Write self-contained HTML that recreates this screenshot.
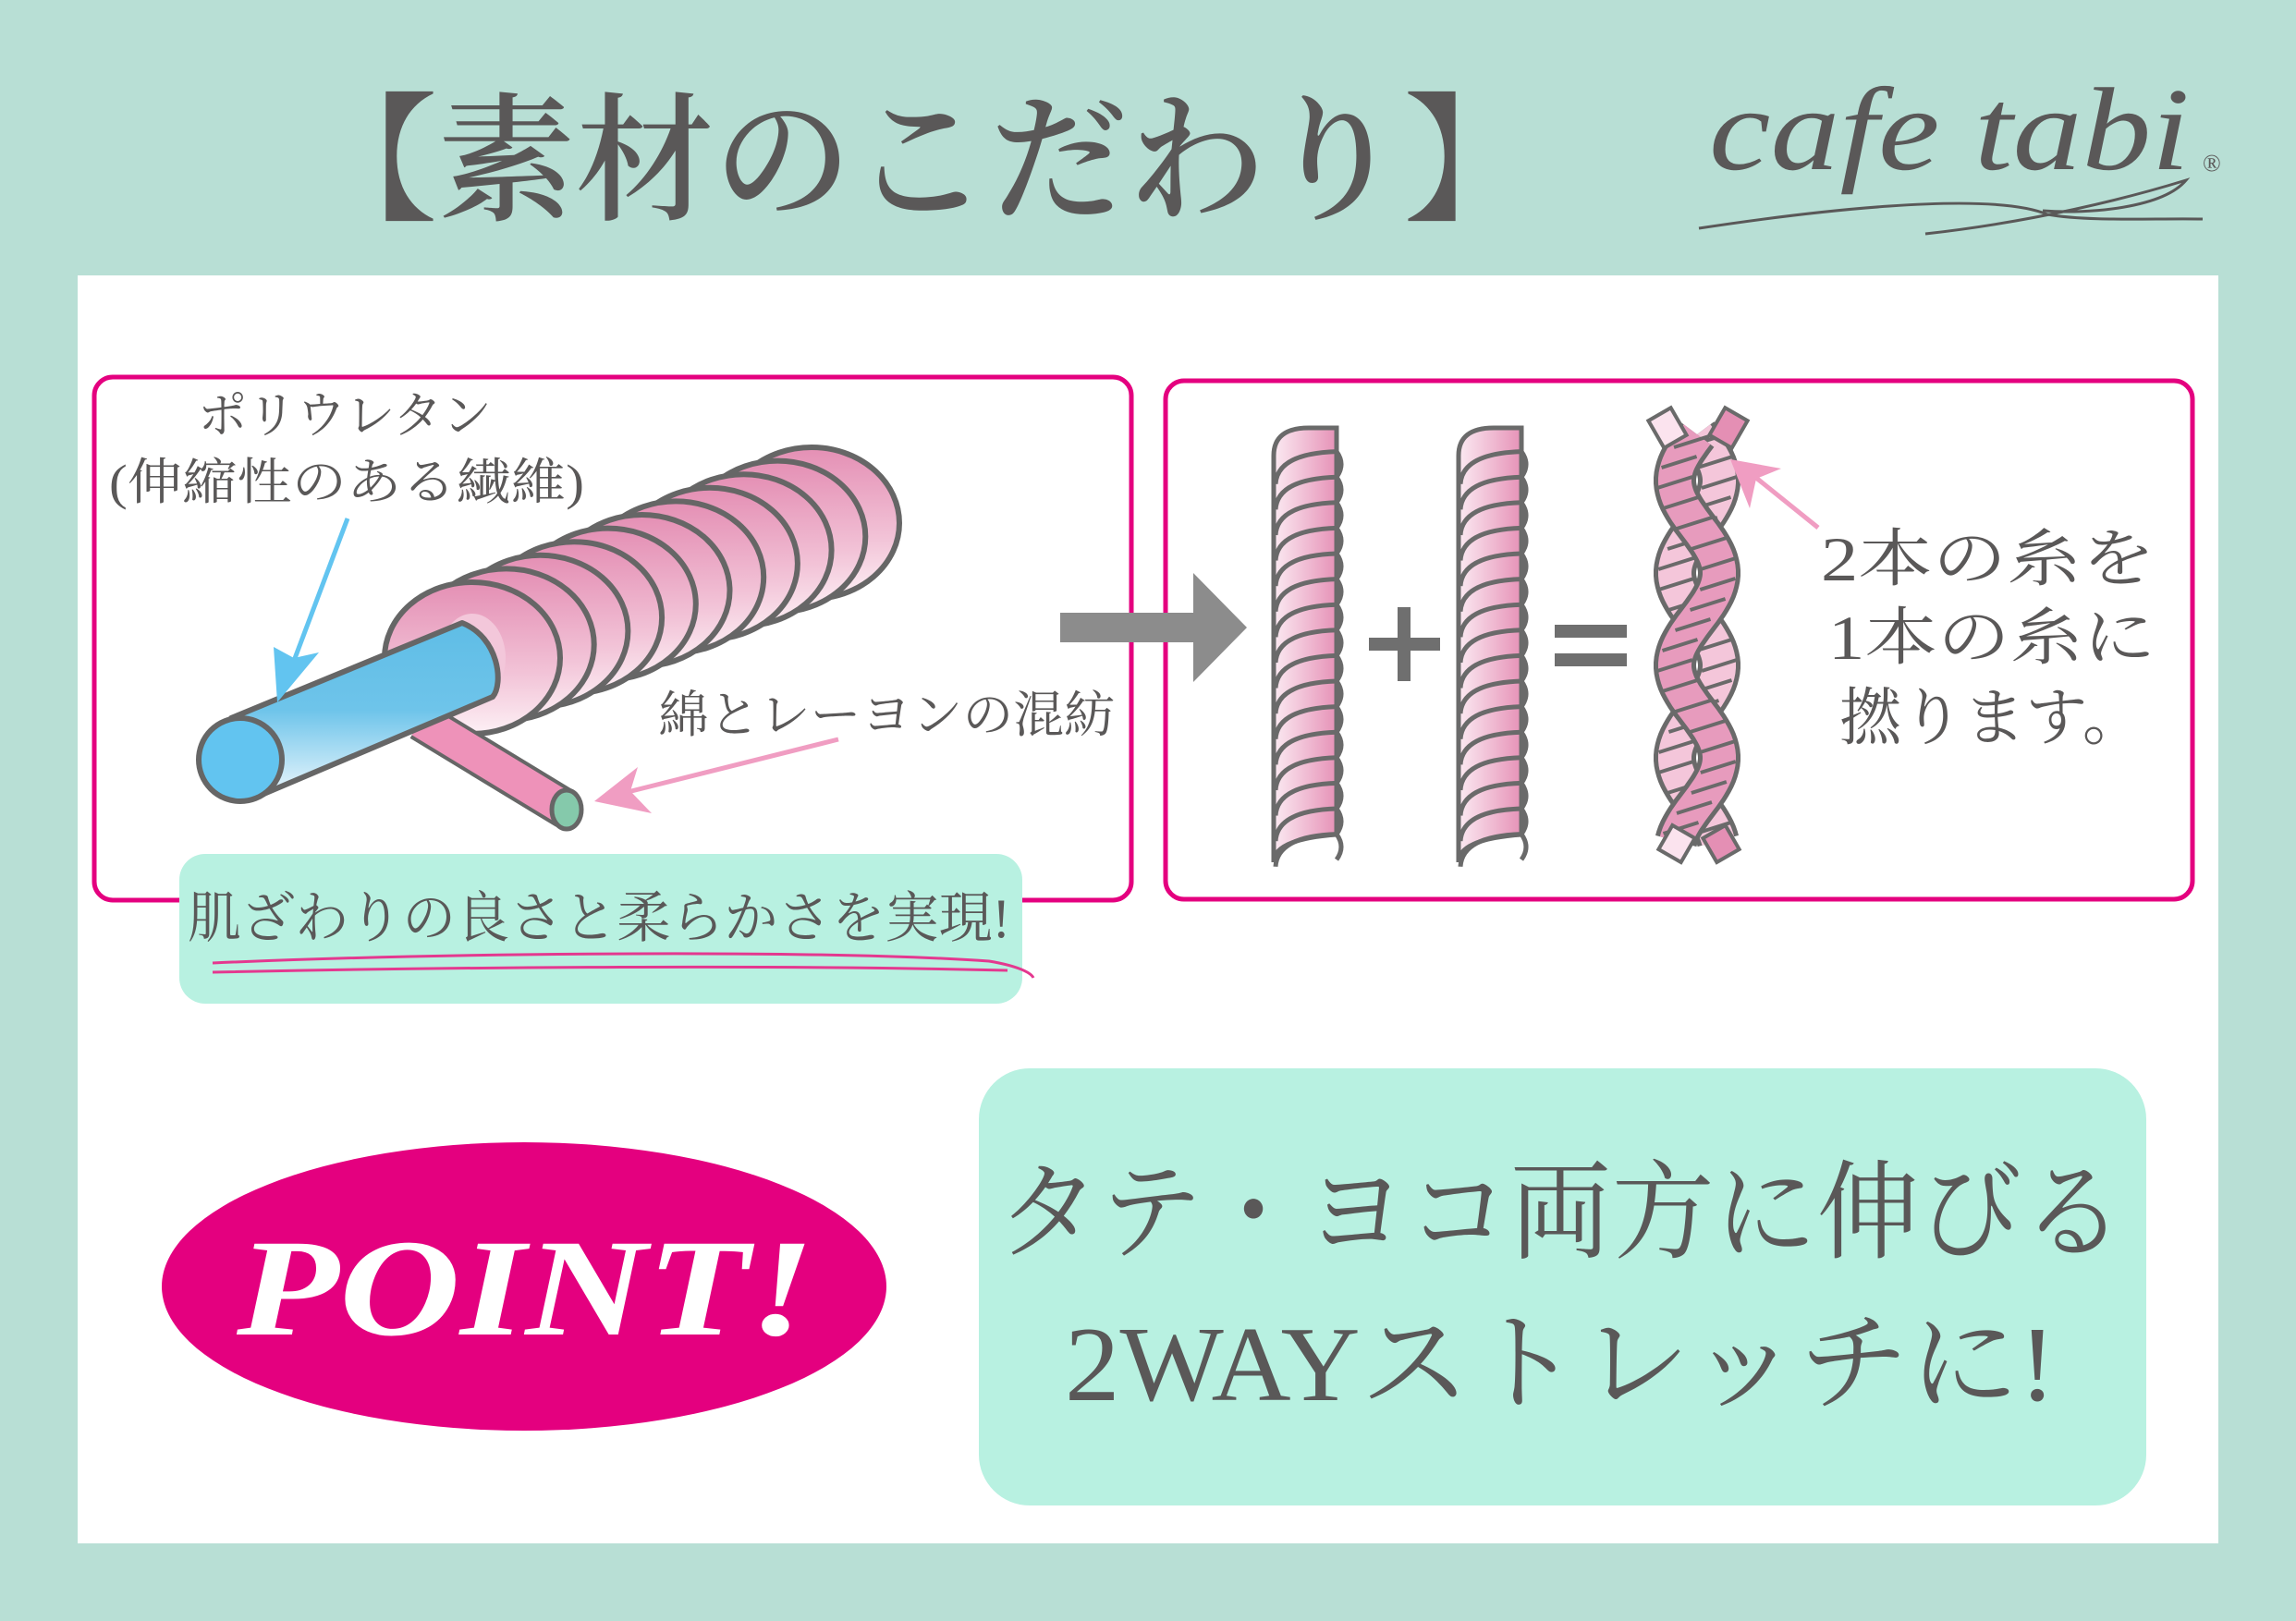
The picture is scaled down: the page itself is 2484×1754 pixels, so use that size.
<!DOCTYPE html>
<html><head><meta charset="utf-8"><style>
html,body{margin:0;padding:0;background:#b8dfd5}
svg{display:block}
text{font-family:"Liberation Serif","Noto Serif CJK SC",serif;fill:#5a5858}
</style></head><body>
<svg id="s" width="2484" height="1754" viewBox="0 0 2484 1754" xmlns="http://www.w3.org/2000/svg">
<defs>
<linearGradient id="pk" x1="0" y1="0" x2="0" y2="1"><stop offset="0" stop-color="#e48fb4"/><stop offset="0.6" stop-color="#f2c3d7"/><stop offset="1" stop-color="#fdf0f5"/></linearGradient>
<linearGradient id="pkh" x1="1" y1="0" x2="0" y2="0"><stop offset="0" stop-color="#e692b7"/><stop offset="1" stop-color="#fbeaf2"/></linearGradient>
<linearGradient id="bl" x1="0" y1="0" x2="0" y2="1"><stop offset="0" stop-color="#5fbde6"/><stop offset="0.5" stop-color="#6ec4ea"/><stop offset="1" stop-color="#eef8fd"/></linearGradient>
</defs>
<rect width="2484" height="1754" fill="#b8dfd5"/>
<text x="324" y="226" font-size="150" font-weight="600" textLength="1344" lengthAdjust="spacingAndGlyphs">【素材のこだわり】</text>
<text x="1849" y="183" font-size="128" font-style="italic" textLength="520" lengthAdjust="spacingAndGlyphs">cafe tabi</text>
<text x="2383" y="185" font-size="26" font-family="Liberation Sans,sans-serif">®</text>
<path d="M1838 247 C1950 230 2150 205 2215 232 C2260 240 2330 236 2383 237" fill="none" stroke="#5a5858" stroke-width="3"/>
<path d="M2083 253 C2200 240 2300 215 2365 195 C2340 225 2260 232 2210 228" fill="none" stroke="#5a5858" stroke-width="3"/>
<rect x="84" y="298" width="2316" height="1372" fill="#fff"/>
<rect x="102" y="408" width="1122" height="566" rx="20" fill="none" stroke="#e4007f" stroke-width="5"/>
<rect x="1261" y="412" width="1111" height="561" rx="20" fill="none" stroke="#e4007f" stroke-width="5"/>
<g id="coil"></g>
<line x1="455" y1="780" x2="613" y2="876" stroke="#666" stroke-width="44"/>
<line x1="455" y1="780" x2="613" y2="876" stroke="#ee92b9" stroke-width="36"/>
<ellipse cx="613" cy="876" rx="16" ry="21" fill="#85c9ab" stroke="#666" stroke-width="5"/>
<path d="M250 777 L500 674 C540 690 545 740 533 754 L276 863 Z" fill="url(#bl)" stroke="#666" stroke-width="6" stroke-linejoin="round"/>
<ellipse cx="260" cy="822" rx="45" ry="45" fill="#62c4f0" stroke="#666" stroke-width="6"/>
<line x1="376" y1="561" x2="318" y2="715" stroke="#62c4f0" stroke-width="5"/>
<path d="M300 760 L296 700 L318 712 L345 706 Z" fill="#62c4f0"/>
<line x1="907" y1="800" x2="675" y2="858" stroke="#f09dc2" stroke-width="5"/>
<path d="M643 867 L690 830 L682 856 L705 880 Z" fill="#f09dc2"/>
<text x="373" y="468" font-size="54" text-anchor="middle" textLength="318" lengthAdjust="spacingAndGlyphs">ポリウレタン</text>
<text x="118" y="540" font-size="54" textLength="514" lengthAdjust="spacingAndGlyphs">(伸縮性のある繊維)</text>
<text x="712" y="792" font-size="54" textLength="494" lengthAdjust="spacingAndGlyphs">綿とレーヨンの混紡</text>
<rect x="194" y="924" width="912" height="162" rx="28" fill="#b8f1e1"/>
<text x="203" y="1014" font-size="60" textLength="890" lengthAdjust="spacingAndGlyphs">肌ざわりの良さと柔らかさを実現!</text>
<path d="M230 1042 C500 1030 900 1028 1070 1040 C1100 1045 1115 1052 1118 1058" fill="none" stroke="#e4388f" stroke-width="3"/>
<path d="M230 1052 C500 1046 850 1044 1090 1050" fill="none" stroke="#e4388f" stroke-width="3"/>
<path d="M1147 663 L1291 663 L1291 620 L1349 679 L1291 738 L1291 695 L1147 695 Z" fill="#8c8c8c"/>
<g id="ropes"></g>
<rect x="1512" y="657" width="14" height="80" fill="#6f6f6f"/>
<rect x="1481" y="690" width="77" height="14" fill="#6f6f6f"/>
<rect x="1682" y="676" width="78" height="14" fill="#6f6f6f"/>
<rect x="1682" y="707" width="78" height="14" fill="#6f6f6f"/>
<line x1="1967" y1="571" x2="1895" y2="513" stroke="#f09dc2" stroke-width="5"/>
<path d="M1872 497 L1927 507 L1900 518 L1893 550 Z" fill="#f09dc2"/>
<text x="1970" y="628" font-size="68" textLength="362" lengthAdjust="spacingAndGlyphs">2本の糸を</text>
<text x="1978" y="713" font-size="68" textLength="354" lengthAdjust="spacingAndGlyphs">1本の糸に</text>
<text x="1990" y="800" font-size="68" textLength="330" lengthAdjust="spacingAndGlyphs">撚ります。</text>
<ellipse cx="567" cy="1392" rx="392" ry="156" fill="#e4007f"/>
<text x="256" y="1444" font-size="150" font-style="italic" font-weight="bold" style="fill:#fff" textLength="625" lengthAdjust="spacingAndGlyphs">POINT!</text>
<rect x="1059" y="1156" width="1263" height="473" rx="55" fill="#b8f1e1"/>
<text x="1079" y="1352" font-size="116" textLength="1219" lengthAdjust="spacingAndGlyphs">タテ・ヨコ両方に伸びる</text>
<text x="1152" y="1515" font-size="116" textLength="1072" lengthAdjust="spacingAndGlyphs">2WAYストレッチに!</text>
</svg>
<script>
var NS="http://www.w3.org/2000/svg";
function el(p,t,a){var e=document.createElementNS(NS,t);for(var k in a)e.setAttribute(k,a[k]);p.appendChild(e);return e;}
var coil=document.getElementById('coil');
var n=11,fx=511,fy=712,bx=878,by=566;
for(var i=n-1;i>=0;i--){var t=i/(n-1);
el(coil,'ellipse',{cx:fx+(bx-fx)*t,cy:fy+(by-fy)*t,rx:95,ry:82,fill:'url(#pk)',stroke:'#666','stroke-width':6});}
el(coil,'ellipse',{cx:fx,cy:fy,rx:36,ry:48,fill:'#f3c7da',stroke:'none'});
var R=document.getElementById('ropes');
function rope(x0){var w=76,y0=463,h=470,p=27.6;
el(R,'path',{d:'M'+x0+' '+(y0+h)+' L'+x0+' '+(y0+30)+' Q'+x0+' '+y0+' '+(x0+w/2)+' '+y0+' L'+(x0+w-8)+' '+y0+' L'+(x0+w-8)+' '+(y0+h-30)+' Q'+x0+' '+(y0+h-25)+' '+x0+' '+(y0+h)+' Z',fill:'url(#pkh)',stroke:'#6a6a6a','stroke-width':5});
for(var i=1;i<17;i++){var y=y0+i*p;
el(R,'path',{d:'M'+(x0+2)+' '+(y+p*1.2)+' Q'+(x0+4)+' '+(y)+' '+(x0+w-8)+' '+(y-2)+' q 10 '+(p/2)+' 0 '+(p)  ,fill:'none',stroke:'#6a6a6a','stroke-width':5});}}
rope(1378);rope(1578);
function strand(ph,col){var pts=[];for(var y=470;y<=912;y+=4){var x=1836+24*Math.sin((y-470)/200*2*Math.PI+ph);pts.push(x.toFixed(1)+','+y);}
var s=pts.join(' ');
el(R,'polyline',{points:s,fill:'none',stroke:'#6a6a6a','stroke-width':46});
el(R,'polyline',{points:s,fill:'none',stroke:col,'stroke-width':36});
for(var y=478;y<=912;y+=22){var x=1836+24*Math.sin((y-470)/200*2*Math.PI+ph);
el(R,'line',{x1:x-19,y1:y+6,x2:x+19,y2:y-6,stroke:'#6a6a6a','stroke-width':4});}}
strand(0,'#f4c6da');strand(Math.PI,'#e79bbd');
el(R,'rect',{x:1790,y:446,width:28,height:34,fill:'#fbe3ee',stroke:'#6a6a6a','stroke-width':4,transform:'rotate(-30 1804 463)'});
el(R,'rect',{x:1856,y:446,width:28,height:34,fill:'#e48fb4',stroke:'#6a6a6a','stroke-width':4,transform:'rotate(30 1870 463)'});
el(R,'rect',{x:1800,y:898,width:28,height:30,fill:'#fbe3ee',stroke:'#6a6a6a','stroke-width':4,transform:'rotate(30 1814 913)'});
el(R,'rect',{x:1848,y:898,width:28,height:30,fill:'#e48fb4',stroke:'#6a6a6a','stroke-width':4,transform:'rotate(-30 1862 913)'});
</script>
</body></html>
